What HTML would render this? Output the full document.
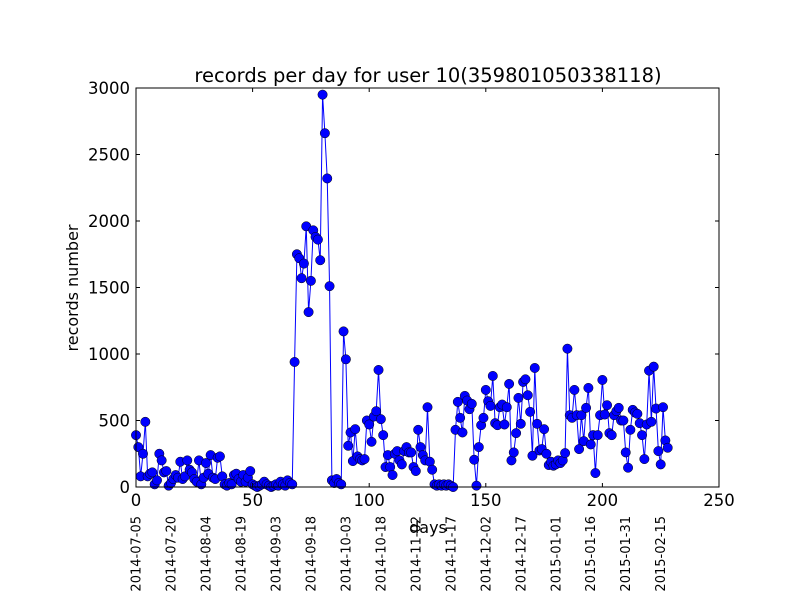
<!DOCTYPE html>
<html><head><meta charset="utf-8"><style>
html,body{margin:0;padding:0;background:#fff;}
svg{display:block;font-family:"DejaVu Sans","Liberation Sans",sans-serif;}
</style></head><body>
<svg id="chart" width="800" height="600" viewBox="0 0 800 600" xmlns="http://www.w3.org/2000/svg">
<rect width="800" height="600" fill="#fff"/>
<text x="428" y="82" font-size="19.5" text-anchor="middle">records per day for user 10(359801050338118)</text>
<text transform="translate(78,288) rotate(-90)" font-size="16" text-anchor="middle">records number</text>
<text x="428" y="533" font-size="16" text-anchor="middle">days</text>
<g id="grid"></g>
<g id="series"></g>
<rect x="136" y="88" width="583" height="399" fill="none" stroke="#000" stroke-width="1"/>
<g id="ticks"></g>
</svg>
<script>
const yValues = [390,300,80,250,490,80,100,110,20,50,250,200,110,120,10,30,60,90,70,190,
60,80,200,130,110,60,40,200,20,70,180,100,240,70,60,220,230,80,20,10,
30,20,90,100,60,40,90,40,70,120,20,10,0,10,20,40,20,10,0,10,
20,10,40,20,10,50,30,20,
940,1750,1720,1570,1680,1960,1315,1550,1930,1880,1860,1705,2950,2660,2320,1510,50,30,60,30,20,
1170,960,310,410,195,435,230,210,200,210,500,470,340,530,570,880,510,390,150,240,
150,90,250,270,200,170,270,300,260,260,150,120,430,300,240,200,600,190,130,20,
10,20,10,20,10,20,10,0,
430,640,520,410,685,650,585,625,205,10,300,465,520,730,645,610,835,480,465,600,
620,470,600,775,200,260,405,670,475,790,810,690,565,235,895,475,275,285,435,250,
165,190,160,170,200,180,200,255,1040,
540,520,730,540,285,540,345,595,745,320,390,105,390,540,805,545,615,405,390,540,
570,595,500,500,260,145,430,580,560,550,480,390,210,470,875,490,905,590,270,170,
600,350,295];
const xTicks = [0,50,100,150,200,250];
const yTicks = [0,500,1000,1500,2000,2500,3000];
const dateLabels = ["2014-07-05","2014-07-20","2014-08-04","2014-08-19","2014-09-03","2014-09-18","2014-10-03","2014-10-18","2014-11-02","2014-11-17","2014-12-02","2014-12-17","2015-01-01","2015-01-16","2015-01-31","2015-02-15"];
const dateStep = 15;

const NS="http://www.w3.org/2000/svg";
const X0=136,X1=719,Y0=487,Y1=88;
function sx(d){return X0+(d/250)*(X1-X0);}
function sy(v){return Y0-(v/3000)*(Y0-Y1);}
function mk(tag,attrs,parent){const e=document.createElementNS(NS,tag);for(const k in attrs)e.setAttribute(k,attrs[k]);parent.appendChild(e);return e;}
const series=document.getElementById('series');
const ticks=document.getElementById('ticks');
let pts=yValues.map((v,i)=>sx(i).toFixed(2)+','+sy(v).toFixed(2)).join(' ');
const line=mk('polyline',{points:pts,fill:'none',stroke:'#0000ff','stroke-width':1},series);


yValues.forEach((v,i)=>{
  const c=mk('circle',{cx:sx(i),cy:sy(v),r:4.7,fill:'#0000ff',stroke:'#000','stroke-width':0.5},series);
  
  
});
xTicks.forEach(t=>{
  const x=sx(t);
  mk('line',{x1:x,x2:x,y1:Y0,y2:Y0-4,stroke:'#000'},ticks);
  mk('line',{x1:x,x2:x,y1:Y1,y2:Y1+4,stroke:'#000'},ticks);
  const tx=mk('text',{x:x,y:Y0+19,'font-size':16.5,'text-anchor':'middle'},ticks);
  tx.textContent=t;
  
  
});
yTicks.forEach(t=>{
  const y=sy(t);
  mk('line',{x1:X0,x2:X0+4,y1:y,y2:y,stroke:'#000'},ticks);
  mk('line',{x1:X1,x2:X1-4,y1:y,y2:y,stroke:'#000'},ticks);
  const tx=mk('text',{x:X0-6,y:y+6,'font-size':16.5,'text-anchor':'end'},ticks);
  tx.textContent=t;
  
  
});
dateLabels.forEach((d,i)=>{
  const x=sx(i*dateStep);
  if(x>X1+5) return;
  const tx=mk('text',{transform:'translate('+(x+4.5)+',516) rotate(-90)','font-size':13,'text-anchor':'end'},ticks);
  tx.textContent=d;
  
  
});
</script>
</body></html>
